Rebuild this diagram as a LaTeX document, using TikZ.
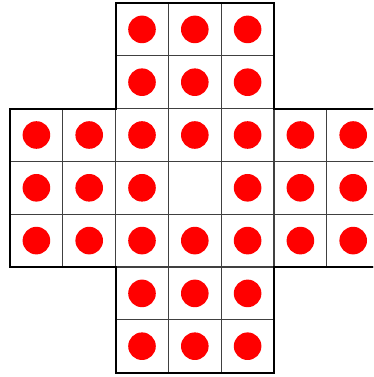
\documentclass[tikz,border=0pt]{standalone}
\begin{document}
\begin{tikzpicture}[x=1pt,y=1pt,
  cellline/.style={draw=black!75,line width=1.1pt},
  outline/.style={draw=black,line width=2pt,line join=miter},
  peg/.style={fill=red}]
\useasboundingbox (0,0) rectangle (373,377);
\fill[white] (0,0) rectangle (373,377);
\clip (0,0) rectangle (373,377);
\begin{scope}[shift={(10,374)},x=52.8pt,y=-52.8pt]
  \foreach \c in {0,...,6}{
    \foreach \r in {0,...,6}{
      \pgfmathtruncatemacro\ok{or(and(\c>1,\c<5),and(\r>1,\r<5))}
      \pgfmathtruncatemacro\ctr{and(\c==3,\r==3)}
      \ifnum\ok=1
        \draw[cellline] (\c,\r) rectangle ++(1,1);
        \ifnum\ctr=0
          \fill[peg] (\c+0.5,\r+0.5) circle[radius=13.8pt];
        \fi
      \fi
    }
  }
  \draw[outline] (2,0) -- (5,0) -- (5,2) -- (7,2) -- (7,5) -- (5,5) -- (5,7)
    -- (2,7) -- (2,5) -- (0,5) -- (0,2) -- (2,2) -- cycle;
\end{scope}
\end{tikzpicture}
\end{document}
